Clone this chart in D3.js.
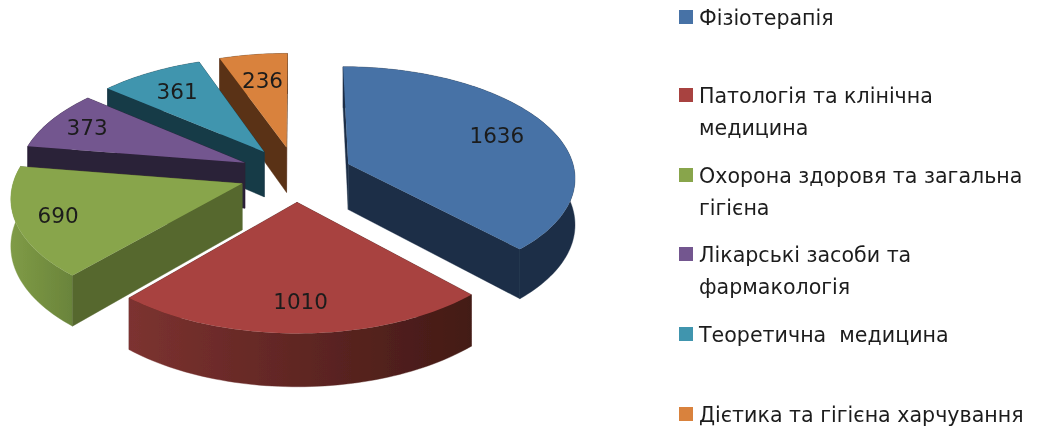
<!DOCTYPE html>
<html><head><meta charset="utf-8">
<script src="https://cdn.jsdelivr.net/npm/d3@7"></script>
<style>html,body{margin:0;padding:0;background:#fff;overflow:hidden}svg{display:block}text{font-family:"DejaVu Sans",sans-serif;fill:#1c1c1c;white-space:pre}</style>
</head><body><svg id="c" width="1039" height="428"></svg>
<script>
const categories = ["Фізіотерапія","Патологія та клінічна медицина","Охорона здоровя та загальна гігієна","Лікарські засоби та фармакологія","Теоретична  медицина","Дієтика та гігієна харчування"];
const values = [1636,1010,690,373,361,236];
const legendLines = [["Фізіотерапія"],["Патологія та клінічна","медицина"],["Охорона здоровя та загальна","гігієна"],["Лікарські засоби та","фармакологія"],["Теоретична  медицина"],["Дієтика та гігієна харчування"]];
const topColors = ["#4672a6","#a84340","#88a54c","#73568f","#3f95ae","#d9823c"];
const wallColors = ["#1b2d46","#4a1a17","#57682f","#2c2038","#193a47","#5a3316"];
const rimFrom = ["#1b2d46","#7c3230","#7f9b46","#2c2038","#193a47","#5a3316"];
const rimTo = ["#1b2d46","#431a16","#6a843b","#2c2038","#193a47","#5a3316"];

const svg = d3.select("#c");
const cx=296, cy=174, explode=.25, persp=.11, depth=46;
const xs=d3.scaleLinear().domain([-1,1]).range([-227,227]);
const ys=d3.scaleLinear().domain([-1,1]).range([-110,110]);
const project=(X,Y,h=0)=>{const w=1/(1-persp*Y);return [cx+xs(X)*w,cy+(ys(Y)+h)*w];};
const line=d3.line();
const arcs=d3.pie().sort(null).value(d=>d)(values);
const defs=svg.append("defs");
defs.append("filter").attr("id","soft").attr("x","-5%").attr("y","-5%").attr("width","110%").attr("height","110%")
  .append("feGaussianBlur").attr("stdDeviation",.5);
const root=svg.append("g").attr("filter","url(#soft)");
const drawOrder=[5,4,3,2,0,1];
const labelReach=[.99,1.03,1.07,1.06,1,.95];
drawOrder.forEach(i=>{
  const a=arcs[i], mid=(a.startAngle+a.endAngle)/2;
  const ox=explode*Math.sin(mid), oy=-explode*Math.cos(mid);
  const n=Math.max(8,Math.round((a.endAngle-a.startAngle)*40));
  const rim=d3.range(n+1).map(j=>{const t=a.startAngle+(a.endAngle-a.startAngle)*j/n;return [ox+Math.sin(t),oy-Math.cos(t)];});
  const g=root.append("g");
  const quad=(pts)=>line(pts.map(p=>project(p[0],p[1])).concat(pts.slice().reverse().map(p=>project(p[0],p[1],depth))))+"Z";
  const gid="rim"+i;
  const lg=defs.append("linearGradient").attr("id",gid).attr("gradientUnits","userSpaceOnUse")
    .attr("x1",d3.min(rim,p=>project(p[0],p[1])[0])).attr("x2",d3.max(rim,p=>project(p[0],p[1])[0])).attr("y1",0).attr("y2",0);
  lg.append("stop").attr("offset",0).attr("stop-color",rimFrom[i]);
  lg.append("stop").attr("offset",1).attr("stop-color",rimTo[i]);
  const walls=[
    {pts:[[ox,oy],rim[0]],fill:wallColors[i]},
    {pts:[[ox,oy],rim[n]],fill:wallColors[i]},
    {pts:rim,fill:`url(#${gid})`}
  ];
  walls.forEach(w=>{w.depthKey=d3.mean(w.pts,p=>p[1]);});
  walls.sort((p,q)=>p.depthKey-q.depthKey).forEach(w=>{
    g.append("path").attr("d",quad(w.pts)).attr("fill",w.fill).attr("stroke",w.fill).attr("stroke-width",.4);
  });
  g.append("path").attr("d",line([[ox,oy],...rim].map(p=>project(p[0],p[1])))+"Z").attr("fill",topColors[i]);
});
arcs.forEach((a,i)=>{
  const mid=(a.startAngle+a.endAngle)/2, r=labelReach[i];
  const [x,y]=project(r*Math.sin(mid),-r*Math.cos(mid));
  root.append("text").attr("x",x).attr("y",y).attr("text-anchor","middle").attr("dominant-baseline","central")
    .attr("font-size",21.5).text(values[i]);
});
const legendY=d3.scaleOrdinal().domain(d3.range(6)).range([17,95,175,254,334,414]);
const leading=32;
legendLines.forEach((ls,i)=>{
  const y=legendY(i);
  root.append("rect").attr("x",679).attr("y",y-7).attr("width",14).attr("height",14).attr("fill",topColors[i]);
  ls.forEach((t,j)=>root.append("text").attr("x",699).attr("y",y+j*leading+1).attr("dominant-baseline","central")
    .attr("font-size",20.6).text(t));
});
</script></body></html>
